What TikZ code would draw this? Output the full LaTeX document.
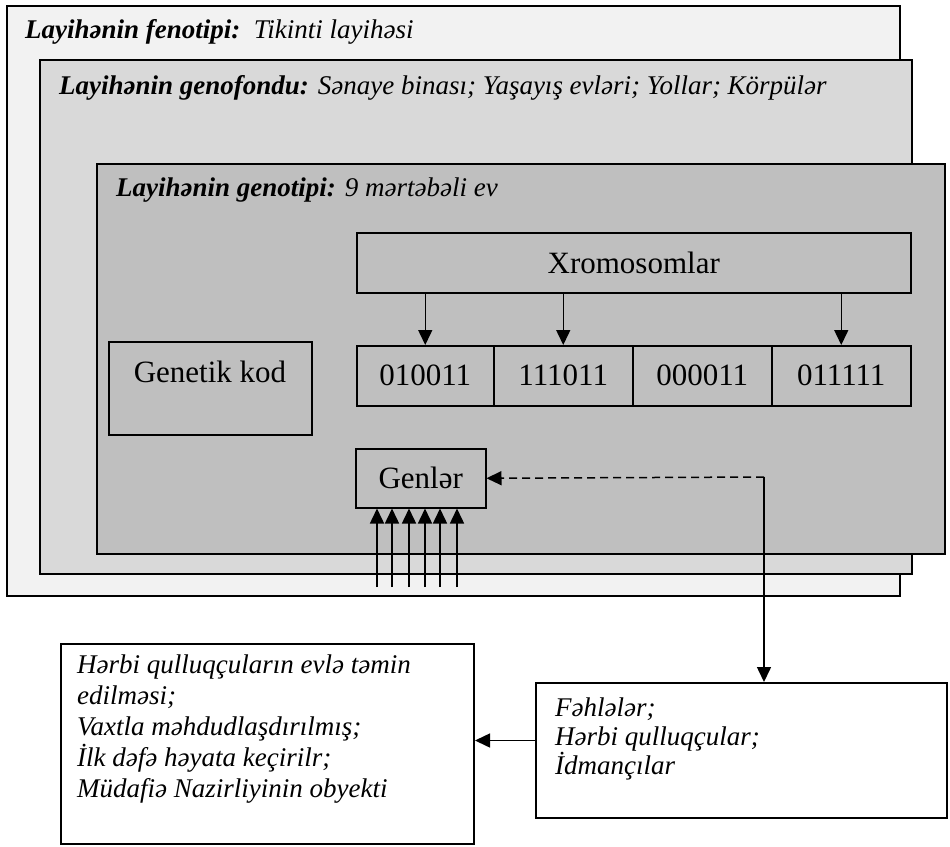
\documentclass[tikz,border=0pt]{standalone}
\usepackage{fontspec}
\setmainfont{Liberation Serif}[
  BoldFont={Liberation Serif Bold},
  ItalicFont={Liberation Serif Italic},
  BoldItalicFont={Liberation Serif Bold Italic}]
\usetikzlibrary{arrows.meta}
\definecolor{fenfill}{HTML}{F2F2F2}
\definecolor{fondfill}{HTML}{D9D9D9}
\definecolor{tipfill}{HTML}{BFBFBF}
\newcommand\boxlabelfont{\fontsize{31}{36}\selectfont}
\newcommand\notetextfont{\fontsize{27}{31}\selectfont\itshape}
\newcommand\tightnotefont{\fontsize{27}{29}\selectfont\itshape}
\begin{document}
\begin{tikzpicture}[x=1pt,y=-1pt,
  frame/.style={draw=black, line width=2pt, anchor=north west, inner sep=0pt},
  cell/.style={draw=black, line width=1.5pt, anchor=north west, inner sep=0pt, font=\boxlabelfont},
  head/.style={anchor=west, inner sep=0pt, font=\notetextfont},
  note/.style={anchor=west, align=left, inner sep=0pt, font=\notetextfont},
  link/.style={line width=1.5pt, -{Triangle[length=15pt,width=14pt]}},
  dashlink/.style={link, dash pattern=on 8pt off 5pt}]
\useasboundingbox (0,0) rectangle (950,846);

% nested project layers
\node[frame, fill=fenfill, minimum width=893pt, minimum height=590pt] (fenotip) at (6,5) {};
\node[frame, fill=fondfill, minimum width=872pt, minimum height=514pt] (genofond) at (39,59) {};
\node[frame, fill=tipfill, minimum width=848pt, minimum height=390pt] (genotip) at (96,163) {};

\node[head] (fenhead) at (25,32) {\textbf{Layihənin fenotipi:}\ \ Tikinti layihəsi};
\node[head] (fondhead) at (59,88) {\textbf{Layihənin genofondu:} Sənaye binası; Yaşayış evləri; Yollar; Körpülər};
\node[head] (tiphead) at (116,190) {\textbf{Layihənin genotipi:} 9 mərtəbəli ev};

% chromosomes and their genes
\node[cell, minimum width=554pt, minimum height=60pt] (xrom) at (356,232) {Xromosomlar};
\node[cell, minimum width=137pt, minimum height=60pt] (bitA) at (356,345) {010011};
\node[cell, minimum width=139pt, minimum height=60pt] (bitB) at (493,345) {111011};
\node[cell, minimum width=139pt, minimum height=60pt] (bitC) at (632,345) {000011};
\node[cell, minimum width=139pt, minimum height=60pt] (bitD) at (771,345) {011111};

\draw[link] (bitA.north |- xrom.south) -- (bitA.north);
\draw[link] (bitB.north |- xrom.south) -- (bitB.north);
\draw[link] (bitD.north |- xrom.south) -- (bitD.north);

\node[cell, minimum width=203pt, minimum height=93pt] (genkod) at (108,341) {};
\node[font=\boxlabelfont, inner sep=0pt] (genkodtext) at (210,372) {Genetik kod};

\node[cell, minimum width=130pt, minimum height=59pt] (genler) at (355,448) {Genlər};

% incoming gene inputs
\foreach \i/\x in {1/377,2/392,3/409,4/425,5/440,6/457}{
  \coordinate (in\i) at (\x,587);
  \draw[link] (in\i) -- (in\i |- genler.south);
}

% users and object properties
\node[frame, minimum width=413pt, minimum height=200pt] (tasks) at (60,643) {};
\node[note] (taskstext) at (77,729) {Hərbi qulluqçuların evlə təmin\\edilməsi;\\Vaxtla məhdudlaşdırılmış;\\İlk dəfə həyata keçirilr;\\Müdafiə Nazirliyinin obyekti};

\node[frame, minimum width=411pt, minimum height=135pt] (workers) at (535,682) {};
\node[note, font=\tightnotefont] (workerstext) at (555,739) {Fəhlələr;\\Hərbi qulluqçular;\\İdmançılar};

\coordinate (bend) at (764,477);
\draw[dashlink] (bend) -- (genler.east);
\draw[link] (bend) -- (bend |- workers.north);
\draw[link] ([yshift=10pt]workers.west) -- ([yshift=10pt]workers.west -| tasks.east);
\end{tikzpicture}
\end{document}
